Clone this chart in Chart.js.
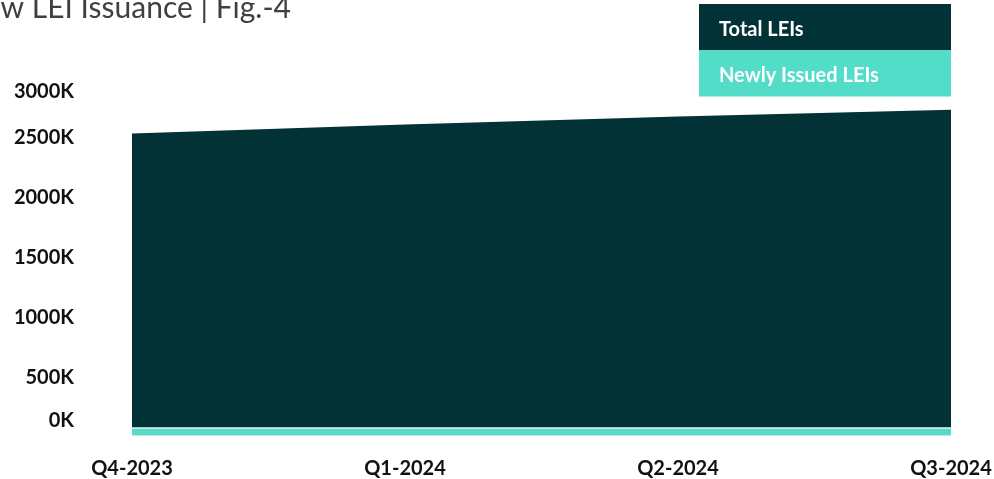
<!DOCTYPE html>
<html>
<head>
<meta charset="utf-8">
<script src="https://cdn.jsdelivr.net/npm/chart.js@4"></script>
<style>
  html, body { margin: 0; padding: 0; background: #ffffff; overflow: hidden; }
  #wrap { position: relative; width: 994px; height: 479px; }
</style>
</head>
<body>
<div id="wrap"><canvas id="c" width="994" height="479"></canvas></div>
<script>
// ---- data ----
const quarters = ['Q4-2023', 'Q1-2024', 'Q2-2024', 'Q3-2024'];
const totalLEIs = [2510000, 2585000, 2651000, 2707000];
const newlyIssuedLEIs = [62000, 62000, 62000, 62000];
const yTickValues = [0, 500000, 1000000, 1500000, 2000000, 2500000, 3000000];
const seriesNames = ['Total LEIs', 'Newly Issued LEIs'];
const titleText = 'New LEI Issuance | Fig.-4';

const DARK = '#033236';
const TEAL = '#53dcc8';
const FONT = 'Lato, "Open Sans", sans-serif';

const kLabel = v => Math.round(v / 1000) + 'K';

const decorPlugin = {
  id: 'decor',
  afterDraw(chart) {
    const ctx = chart.ctx;
    const y = chart.scales.y;
    ctx.save();
    // title (left part clipped off the canvas, as in the reference)
    ctx.font = '400 30px ' + FONT;
    ctx.fillStyle = '#404040';
    ctx.textAlign = 'right';
    ctx.textBaseline = 'alphabetic';
    ctx.fillText(titleText, 291, 18);

    // y labels
    ctx.font = '700 20px ' + FONT;
    ctx.fillStyle = '#111111';
    ctx.textAlign = 'right';
    ctx.textBaseline = 'middle';
    yTickValues.forEach(v => {
      let py = y.getPixelForValue(v) + 2.5;
      py = Math.min(Math.max(py, 91.5), 420.5);
      ctx.fillText(kLabel(v), 74, py);
    });

    // legend boxes
    const lx = 699, lw = 252;
    ctx.fillStyle = DARK;
    ctx.fillRect(lx, 4, lw, 46);
    ctx.fillStyle = TEAL;
    ctx.fillRect(lx, 50, lw, 46.5);
    ctx.font = '700 20px ' + FONT;
    ctx.fillStyle = '#ffffff';
    ctx.textAlign = 'left';
    ctx.textBaseline = 'alphabetic';
    ctx.fillText(seriesNames[0], 719, 36);
    ctx.fillText(seriesNames[1], 719, 81.5);
    ctx.restore();
  }
};

new Chart(document.getElementById('c'), {
  type: 'line',
  data: {
    labels: quarters,
    datasets: [
      {
        label: seriesNames[1],
        data: newlyIssuedLEIs,
        backgroundColor: TEAL,
        borderColor: '#eef2f2',
        borderWidth: 1.5,
        fill: 'origin',
        pointRadius: 0,
        tension: 0,
        order: 0
      },
      {
        label: seriesNames[0],
        data: totalLEIs,
        backgroundColor: DARK,
        borderColor: DARK,
        borderWidth: 0,
        fill: 'origin',
        pointRadius: 0,
        tension: 0,
        order: 1
      }
    ]
  },
  options: {
    responsive: false,
    animation: false,
    events: [],
    layout: { padding: { left: 132, right: 43, top: 74.5, bottom: 0 } },
    plugins: {
      legend: { display: false },
      title: { display: false },
      tooltip: { enabled: false }
    },
    scales: {
      x: {
        offset: false,
        grid: { display: false },
        border: { display: false },
        ticks: {
          color: '#111111',
          font: { family: FONT, size: 20, weight: '700' },
          padding: 13,
          maxRotation: 0,
          autoSkip: false
        },
        afterFit(scale) {
          scale.height = 43.5;
          scale.paddingLeft = 0;
          scale.paddingRight = 0;
        }
      },
      y: {
        display: false,
        min: 0,
        max: 3000000
      }
    }
  },
  plugins: [decorPlugin]
});
</script>
</body>
</html>
